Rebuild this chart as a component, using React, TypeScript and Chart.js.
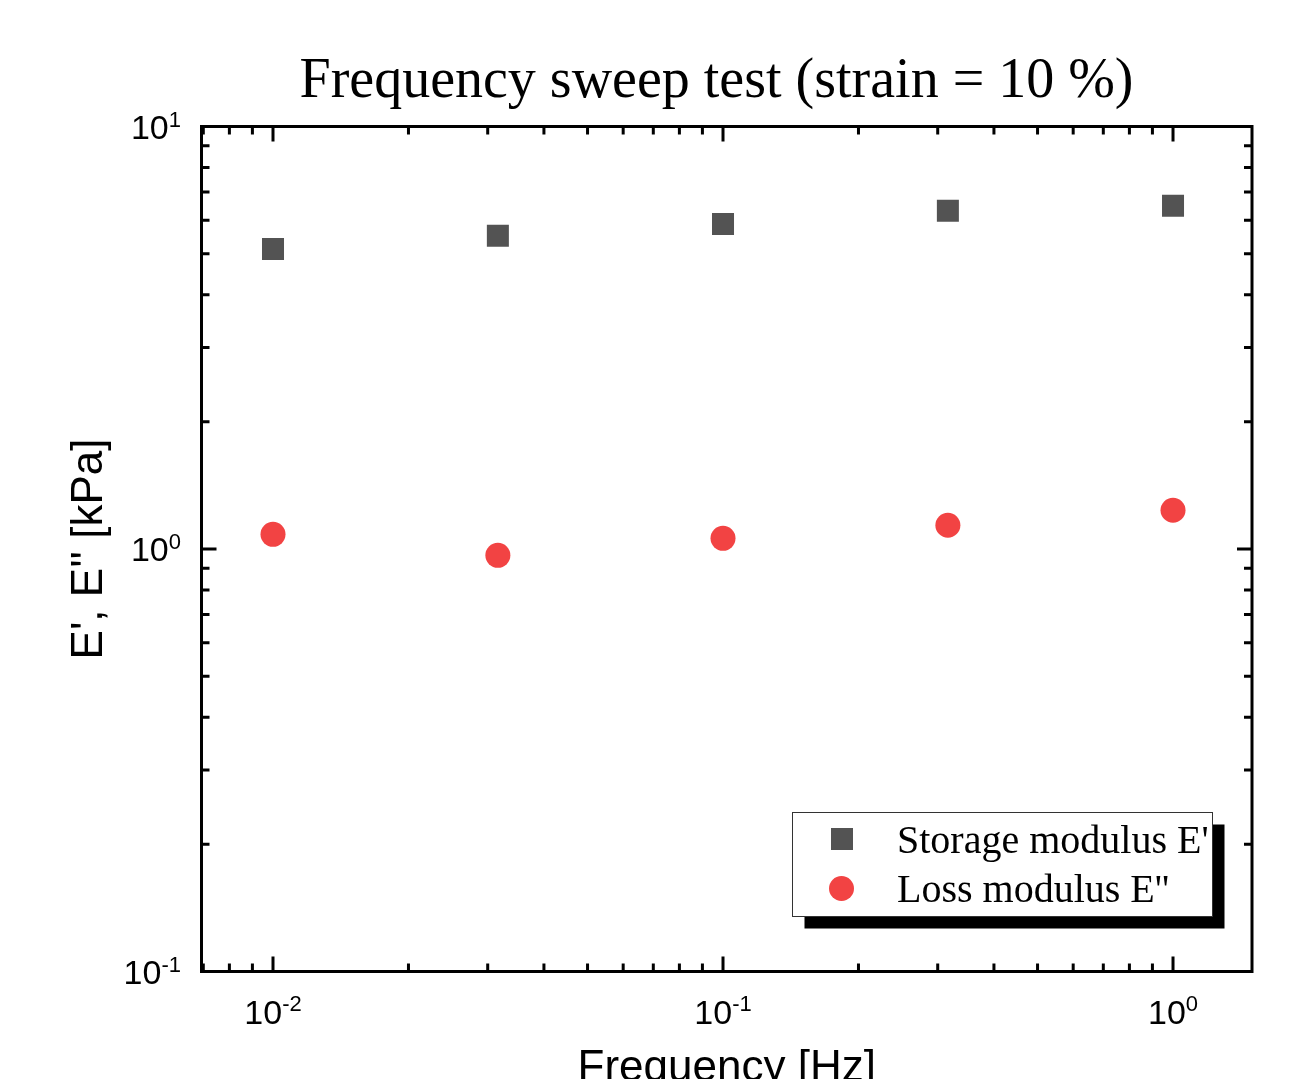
import React, { useEffect, useRef } from 'react';
import { Chart, registerables } from 'chart.js';

Chart.register(...registerables);

// ---- data ----
const frequencyHz = [0.01, 0.0316, 0.1, 0.316, 1.0];
const storageModulus = [5.13, 5.51, 5.88, 6.32, 6.49];
const lossModulus = [1.083, 0.966, 1.06, 1.138, 1.235];
const xTickExponents = [-2, -1, 0];
const yTickExponents = [-1, 0, 1];
const seriesLabels = ["Storage modulus E'", "Loss modulus E''"];
const chartTitle = 'Frequency sweep test (strain = 10 %)';
const xAxisTitle = 'Frequency [Hz]';
const yAxisTitle = "E', E'' [kPa]";

const SANS = '"Liberation Sans", Arial, sans-serif';
const SERIF = '"Liberation Serif", "Times New Roman", serif';

function logTicks(min: number, max: number) {
  const out: { v: number; major: boolean }[] = [];
  for (let d = Math.floor(Math.log10(min)); d <= Math.ceil(Math.log10(max)); d++) {
    for (let m = 1; m <= 9; m++) {
      const v = m * Math.pow(10, d);
      if (v >= min * 0.9999 && v <= max * 1.0001) out.push({ v, major: m === 1 });
    }
  }
  return out;
}

function drawPow(ctx: CanvasRenderingContext2D, exp: number, startX: number, baseline: number, supBaseline: number) {
  ctx.font = `34px ${SANS}`;
  ctx.textAlign = 'left';
  ctx.textBaseline = 'alphabetic';
  ctx.fillText('10', startX, baseline);
  const w = ctx.measureText('10').width;
  ctx.font = `22px ${SANS}`;
  ctx.fillText(String(exp), startX + w, supBaseline);
}

function powWidth(ctx: CanvasRenderingContext2D, exp: number) {
  ctx.font = `34px ${SANS}`;
  const w1 = ctx.measureText('10').width;
  ctx.font = `22px ${SANS}`;
  const w2 = ctx.measureText(String(exp)).width;
  return w1 + w2;
}

const decoration = {
  id: 'decoration',
  afterDatasetsDraw(chart: any) {
    const { ctx, chartArea: a, scales } = chart;
    const xs = scales.x;
    const ys = scales.y;
    ctx.save();
    ctx.fillStyle = '#000';
    ctx.strokeStyle = '#000';

    // ticks (inward on all sides)
    ctx.lineWidth = 3;
    ctx.lineCap = 'butt';
    ctx.beginPath();
    for (const t of logTicks(xs.min, xs.max)) {
      const px = xs.getPixelForValue(t.v);
      const len = t.major ? 15 : 8;
      ctx.moveTo(px, a.bottom);
      ctx.lineTo(px, a.bottom - len);
      ctx.moveTo(px, a.top);
      ctx.lineTo(px, a.top + len);
    }
    for (const t of logTicks(ys.min, ys.max)) {
      const py = ys.getPixelForValue(t.v);
      const len = t.major ? 15 : 8;
      ctx.moveTo(a.left, py);
      ctx.lineTo(a.left + len, py);
      ctx.moveTo(a.right, py);
      ctx.lineTo(a.right - len, py);
    }
    ctx.stroke();

    // frame
    ctx.lineWidth = 3;
    ctx.strokeRect(a.left, a.top, a.right - a.left, a.bottom - a.top);

    // tick labels
    for (const e of xTickExponents) {
      const px = xs.getPixelForValue(Math.pow(10, e));
      const w = powWidth(ctx, e);
      const base = a.bottom + 52.5;
      drawPow(ctx, e, px - w / 2, base, base - 13);
    }
    for (const e of yTickExponents) {
      const py = ys.getPixelForValue(Math.pow(10, e));
      const w = powWidth(ctx, e);
      drawPow(ctx, e, a.left - 20.5 - w, py + 12, py);
    }

    // titles
    ctx.textAlign = 'center';
    ctx.textBaseline = 'alphabetic';
    ctx.font = `56px ${SERIF}`;
    ctx.fillText(chartTitle, 716.5, 97);

    ctx.font = `44px ${SANS}`;
    ctx.fillText(xAxisTitle, (a.left + a.right) / 2, 1081);

    ctx.save();
    ctx.translate(102, (a.top + a.bottom) / 2);
    ctx.rotate(-Math.PI / 2);
    ctx.font = `44px ${SANS}`;
    ctx.fillText(yAxisTitle, 0, 0);
    ctx.restore();

    // legend
    const lx = 792.5, ly = 812.5, lw = 420, lh = 104;
    ctx.fillStyle = '#000';
    ctx.fillRect(lx + 12, ly + 12, lw, lh);
    ctx.fillStyle = '#fff';
    ctx.fillRect(lx, ly, lw, lh);
    ctx.lineWidth = 1;
    ctx.strokeStyle = '#333';
    ctx.strokeRect(lx, ly, lw, lh);

    const ds = chart.data.datasets;
    ctx.fillStyle = ds[0].backgroundColor;
    ctx.fillRect(842 - 11, 839 - 11, 22, 22);
    ctx.fillStyle = ds[1].backgroundColor;
    ctx.beginPath();
    ctx.arc(841.5, 888.5, 12.5, 0, Math.PI * 2);
    ctx.fill();

    ctx.fillStyle = '#000';
    ctx.textAlign = 'left';
    ctx.font = `40px ${SERIF}`;
    ctx.fillText(seriesLabels[0], 897, 853);
    ctx.fillText(seriesLabels[1], 897, 902);

    ctx.restore();
  },
};

export default function App() {
  const ref = useRef<HTMLCanvasElement | null>(null);
  useEffect(() => {
    if (!ref.current) return;
    const chart = new Chart(ref.current, {
      type: 'scatter',
      data: {
        datasets: [
          {
            label: seriesLabels[0],
            data: frequencyHz.map((f, i) => ({ x: f, y: storageModulus[i] })),
            pointStyle: 'rect',
            pointRadius: 15.56,
            pointHoverRadius: 15.56,
            borderWidth: 0,
            backgroundColor: '#535353',
            borderColor: '#535353',
          },
          {
            label: seriesLabels[1],
            data: frequencyHz.map((f, i) => ({ x: f, y: lossModulus[i] })),
            pointStyle: 'circle',
            pointRadius: 12.5,
            pointHoverRadius: 12.5,
            borderWidth: 0,
            backgroundColor: '#f24343',
            borderColor: '#f24343',
          },
        ],
      },
      options: {
        animation: false,
        responsive: true,
        maintainAspectRatio: false,
        events: [],
        layout: { padding: { left: 201.5, top: 126.5, right: 38, bottom: 107.5 } },
        plugins: {
          legend: { display: false },
          title: { display: false },
          tooltip: { enabled: false },
        },
        scales: {
          x: { type: 'logarithmic', min: 0.006936, max: 1.498, display: false },
          y: { type: 'logarithmic', min: 0.1, max: 10, display: false },
        },
      },
      plugins: [decoration],
    });
    return () => chart.destroy();
  }, []);
  return (
    <div style={{ position: 'fixed', left: 0, top: 0, width: 1290, height: 1079, background: '#fff' }}>
      <canvas ref={ref} />
    </div>
  );
}
